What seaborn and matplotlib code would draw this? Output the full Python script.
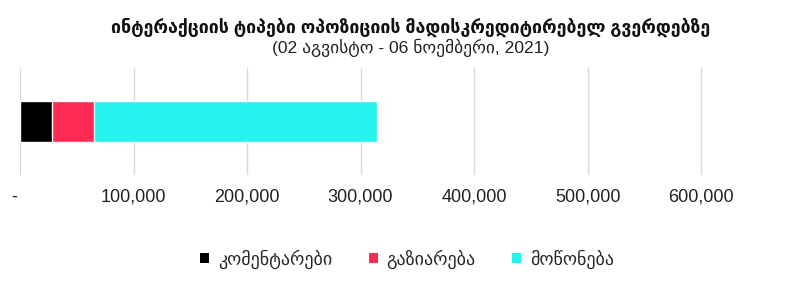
import matplotlib
matplotlib.use("Agg")
import matplotlib.pyplot as plt
import seaborn as sns
import pandas as pd
from matplotlib.patches import Patch

sns.set_theme(style="white")
plt.rcParams['font.family'] = ['Liberation Sans', 'DejaVu Sans']

category = ["ოპოზიციის მადისკრედიტირებელი გვერდები"]
series = ["კომენტარები", "გაზიარება", "მოწონება"]
values = [28200, 37000, 249300]
colors = ["#000000", "#FE2C55", "#25F4EE"]
tick_values = [0, 100000, 200000, 300000, 400000, 500000, 600000]
tick_labels = ["-  ", "100,000", "200,000", "300,000", "400,000", "500,000", "600,000"]

W, H = 806, 282
fig = plt.figure(figsize=(W / 100, H / 100), dpi=100)
ax = fig.add_axes([20 / W, 1 - 175 / H, 772 / W, 107 / H])

# stacked: draw cumulative totals from largest to smallest
cum = []
s = 0
for v in values:
    s += v
    cum.append(s)
for i in reversed(range(len(values))):
    df = pd.DataFrame({"cat": category, "val": [cum[i]]})
    sns.barplot(data=df, x="val", y="cat", color=colors[i], width=0.383,
                saturation=1, ax=ax, orient="h")

ax.set_xlim(0, 680000)
ax.set_ylim(0.5, -0.5)
ax.set_xticks(tick_values)
ax.set_xticklabels(tick_labels, fontsize=13, color="#222222")
ax.set_yticks([])
ax.set_xlabel("")
ax.set_ylabel("")
ax.xaxis.grid(True, color="#d9d9d9", linewidth=1)
ax.set_axisbelow(True)
for sp in ax.spines.values():
    sp.set_visible(False)
ax.tick_params(axis="x", length=0, pad=10)

fig.text(411 / W, 1 - 27 / H, "ინტერაქციის ტიპები ოპოზიციის მადისკრედიტირებელ გვერდებზე",
         ha="center", va="center", fontsize=12.8, fontweight="bold", color="#111111")
fig.text(411 / W, 1 - 48 / H, "(02 აგვისტო - 06 ნოემბერი, 2021)",
         ha="center", va="center", fontsize=12.6, color="#222222")

handles = [Patch(facecolor=c, edgecolor="none", label=l) for c, l in zip(colors, series)]
fig.legend(handles=handles, loc="center", bbox_to_anchor=(407 / W, 1 - 259 / H), ncol=3,
           frameon=False, fontsize=13, handlelength=0.5, handleheight=0.5,
           handletextpad=0.5, columnspacing=2.0, borderpad=0, borderaxespad=0)

fig.savefig("out.png", dpi=100)
